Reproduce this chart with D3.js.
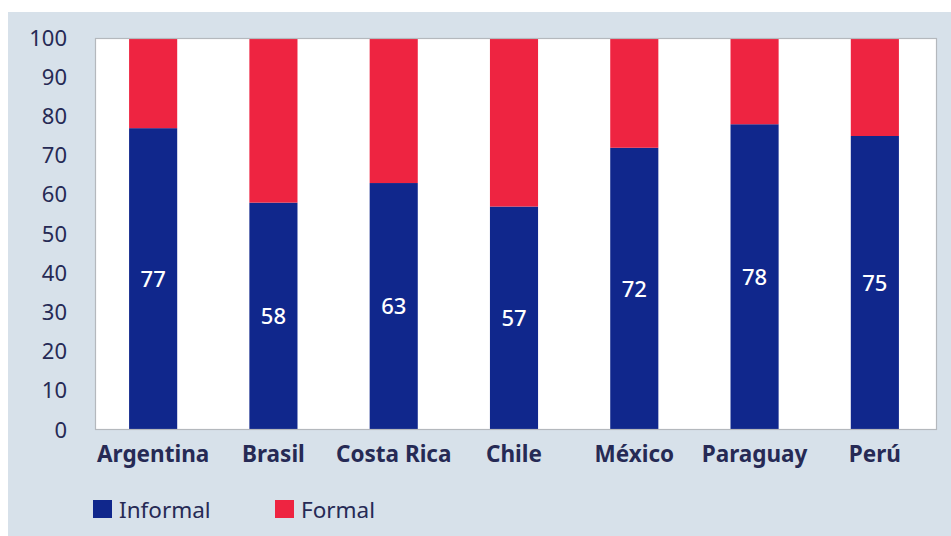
<!DOCTYPE html>
<html><head><meta charset="utf-8">
<script src="https://cdn.jsdelivr.net/npm/d3@7"></script>
<style>body{margin:0;background:#fff;}svg{display:block;}</style>
</head><body>
<svg id="c" width="951" height="536"></svg>
<script>
const categories = ["Argentina","Brasil","Costa Rica","Chile","México","Paraguay","Perú"];
const informal = [77,58,63,57,72,78,75];
const formal = informal.map(v => 100 - v);
const yTicks = [0,10,20,30,40,50,60,70,80,90,100];
const seriesNames = ["Informal","Formal"];
const colors = {Informal:"#10278c", Formal:"#ee2441"};
const textColor = "#262a55";
const font = "'Noto Sans', 'Open Sans', sans-serif";

const svg = d3.select("#c");
svg.append("rect").attr("x",8).attr("y",12).attr("width",943).attr("height",524).attr("fill","#d7e1ea");

const L=95, R=937, T=38, B=430;
svg.append("rect").attr("x",L).attr("y",T).attr("width",R-L).attr("height",B-T).attr("fill","#fff");

const x = d3.scaleBand().domain(categories).range([L-2,R-2]).paddingInner(0.6).paddingOuter(0.3);
const y = d3.scaleLinear().domain([0,100]).range([B,T]);

const data = categories.map((c,i)=>({cat:c, Informal:informal[i], Formal:formal[i]}));
const stack = d3.stack().keys(seriesNames)(data);

svg.append("g").selectAll("g").data(stack).join("g")
  .attr("fill", d=>colors[d.key])
  .selectAll("rect").data(d=>d).join("rect")
  .attr("x", d=>x(d.data.cat))
  .attr("width", x.bandwidth())
  .attr("y", d=>y(d[1]))
  .attr("height", d=>y(d[0])-y(d[1]));

// border
svg.append("rect").attr("x",L+0.5).attr("y",T+0.5).attr("width",R-L-1).attr("height",B-T-1)
  .attr("fill","none").attr("stroke","#b4b8bd").attr("stroke-width",1.2);

// value labels
svg.append("g").selectAll("text").data(data).join("text")
  .attr("x", d=>x(d.cat)+x.bandwidth()/2)
  .attr("y", d=>y(d.Informal/2))
  .attr("dy","0.35em")
  .attr("text-anchor","middle")
  .attr("fill","#fff")
  .attr("font-family",font).attr("font-size",22).attr("font-weight",500)
  .text(d=>d.Informal);

// y axis
const ya = svg.append("g").attr("transform",`translate(${L},0)`)
  .call(d3.axisLeft(y).tickValues(yTicks).tickSize(0).tickPadding(28));
ya.select(".domain").remove();
ya.selectAll("text").attr("font-family",font).attr("font-size",22).attr("fill",textColor);

// x axis
const xa = svg.append("g").attr("transform",`translate(0,${B})`)
  .call(d3.axisBottom(x).tickSize(0).tickPadding(16));
xa.select(".domain").remove();
xa.selectAll("text").attr("font-family",font).attr("font-size",22.5).attr("font-weight","bold").attr("fill",textColor);

// legend
const legX = [93, 275];
const lg = svg.append("g").selectAll("g").data(seriesNames).join("g")
  .attr("transform",(d,i)=>`translate(${legX[i]},500)`);
lg.append("rect").attr("width",19).attr("height",18).attr("fill",d=>colors[d]);
lg.append("text").attr("x",26).attr("y",10).attr("dy","0.36em")
  .attr("font-family",font).attr("font-size",22.5).attr("fill",textColor).text(d=>d);
</script>
</body></html>
